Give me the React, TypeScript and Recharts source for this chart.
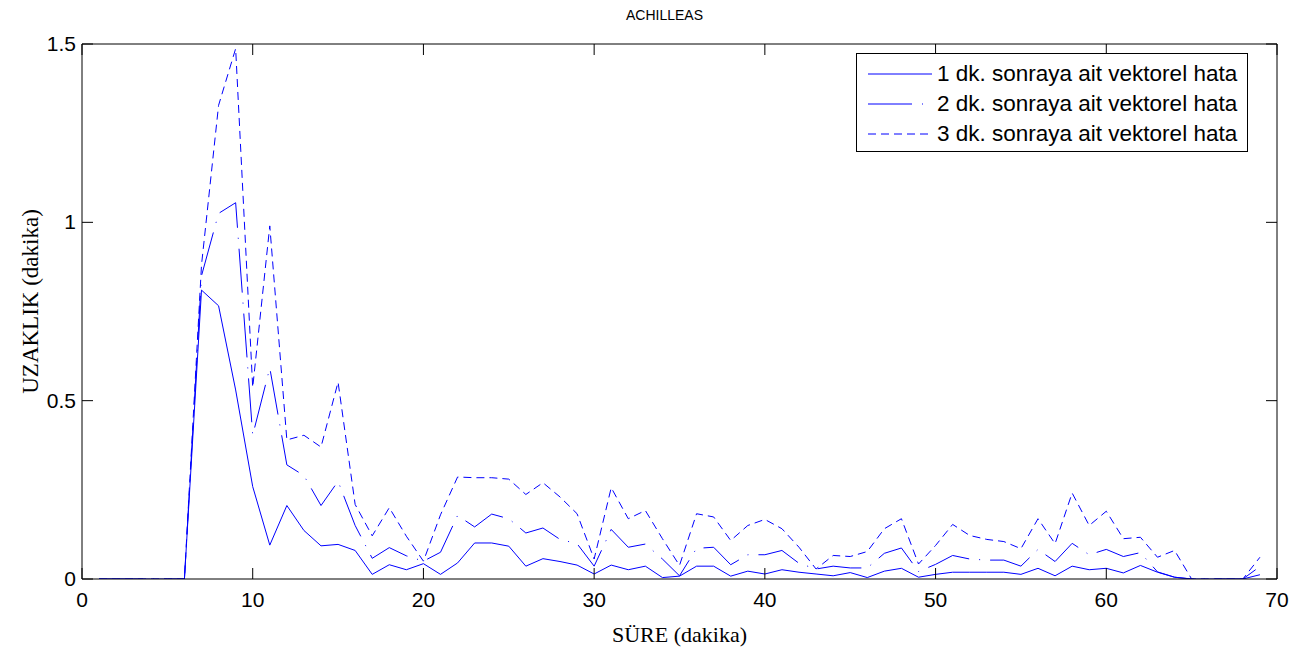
import React from 'react'
import { LineChart, Line, XAxis, YAxis, Legend, Label } from 'recharts'

// minutes on the x axis
const minutes = [
  1, 2, 3, 4, 5, 6, 7, 8, 9, 10, 11, 12, 13, 14, 15, 16, 17, 18, 19, 20,
  21, 22, 23, 24, 25, 26, 27, 28, 29, 30, 31, 32, 33, 34, 35, 36, 37, 38, 39, 40,
  41, 42, 43, 44, 45, 46, 47, 48, 49, 50, 51, 52, 53, 54, 55, 56, 57, 58, 59, 60,
  61, 62, 63, 64, 65, 66, 67, 68, 69,
]

const err1 = [
  0, 0, 0, 0, 0, 0, 0.81, 0.766, 0.53, 0.259, 0.095, 0.206, 0.136, 0.093, 0.097, 0.08, 0.013, 0.04, 0.026, 0.043,
  0.013, 0.045, 0.101, 0.101, 0.092, 0.036, 0.057, 0.049, 0.039, 0.014, 0.039, 0.026, 0.036, 0.004, 0.008, 0.036, 0.036, 0.008, 0.022, 0.014,
  0.026, 0.019, 0.014, 0.009, 0.018, 0.004, 0.022, 0.03, 0.005, 0.013, 0.019, 0.019, 0.019, 0.019, 0.013, 0.03, 0.009, 0.036, 0.026, 0.03,
  0.017, 0.038, 0.019, 0.005, 0, 0, 0, 0, 0.012,
]

const err2 = [
  0, 0, 0, 0, 0, 0, 0.85, 1.025, 1.055, 0.403, 0.592, 0.32, 0.29, 0.206, 0.274, 0.15, 0.058, 0.088, 0.065, 0.05,
  0.075, 0.178, 0.146, 0.182, 0.169, 0.129, 0.143, 0.111, 0.099, 0.036, 0.139, 0.089, 0.098, 0.056, 0.009, 0.086, 0.089, 0.04, 0.068, 0.068,
  0.08, 0.044, 0.028, 0.036, 0.031, 0.031, 0.072, 0.087, 0.021, 0.041, 0.066, 0.056, 0.053, 0.053, 0.036, 0.083, 0.049, 0.1, 0.068, 0.083,
  0.063, 0.074, 0.02, 0.005, 0, 0, 0, 0, 0.035,
]

const err3 = [
  0, 0, 0, 0, 0, 0, 0.88, 1.328, 1.487, 0.537, 0.99, 0.39, 0.403, 0.37, 0.552, 0.209, 0.121, 0.2, 0.12, 0.05,
  0.18, 0.286, 0.284, 0.284, 0.28, 0.237, 0.27, 0.23, 0.183, 0.056, 0.256, 0.169, 0.192, 0.113, 0.038, 0.183, 0.174, 0.108, 0.15, 0.167,
  0.141, 0.089, 0.028, 0.066, 0.063, 0.077, 0.141, 0.169, 0.042, 0.094, 0.153, 0.122, 0.111, 0.105, 0.085, 0.169, 0.099, 0.241, 0.15, 0.19,
  0.113, 0.117, 0.061, 0.08, 0, 0, 0, 0, 0.061,
]

const seriesNames = [
  '1 dk. sonraya ait vektorel hata',
  '2 dk. sonraya ait vektorel hata',
  '3 dk. sonraya ait vektorel hata',
]

const xTicks = [0, 10, 20, 30, 40, 50, 60, 70]
const yTicks = [0, 0.5, 1, 1.5]

const data = minutes.map((m, i) => ({ m, e1: err1[i], e2: err2[i], e3: err3[i] }))

const BLUE = '#0000ff'
const SANS = '"Liberation Sans", Arial, sans-serif'
const SERIF = '"Liberation Serif", "Times New Roman", serif'
const DASHES = [undefined, '44 10 1 10', '8 5']
const TICK = 11
const TICK_FONT = 21

const BottomTick = (props: any) => {
  const { x, y, payload } = props
  return (
    <g>
      <line x1={x} y1={y} x2={x} y2={y - TICK} stroke="#000" />
      <text x={x} y={y + 28} textAnchor="middle" fontSize={TICK_FONT} fontFamily={SANS} fill="#000">
        {payload.value}
      </text>
    </g>
  )
}

const TopTick = (props: any) => {
  const { x, y } = props
  return <line x1={x} y1={y} x2={x} y2={y + TICK} stroke="#000" />
}

const LeftTick = (props: any) => {
  const { x, y, payload } = props
  return (
    <g>
      <line x1={x} y1={y} x2={x + TICK} y2={y} stroke="#000" />
      <text x={x - 6} y={y + 7} textAnchor="end" fontSize={TICK_FONT} fontFamily={SANS} fill="#000">
        {payload.value}
      </text>
    </g>
  )
}

const RightTick = (props: any) => {
  const { x, y } = props
  return <line x1={x} y1={y} x2={x - TICK} y2={y} stroke="#000" />
}

const LegendBox = () => (
  <div
    style={{
      border: '1px solid #000',
      background: '#fff',
      width: 392,
      height: 99,
      paddingTop: 5,
      boxSizing: 'border-box',
    }}
  >
    {seriesNames.map((name, i) => (
      <div key={name} style={{ display: 'flex', alignItems: 'center', height: 30 }}>
        <svg width={80} height={10} style={{ flex: 'none' }}>
          <line x1={11} y1={5} x2={75} y2={5} stroke={BLUE} strokeDasharray={DASHES[i]} />
        </svg>
        <span style={{ fontSize: 22.5, fontFamily: SANS, color: '#000', whiteSpace: 'nowrap' }}>{name}</span>
      </div>
    ))}
  </div>
)

export default function App() {
  return (
    <div style={{ position: 'absolute', left: 0, top: 0 }}>
      <LineChart width={1299} height={658} data={data} margin={{ top: 43, right: 21, bottom: 9, left: 8 }}>
        <XAxis
          dataKey="m"
          type="number"
          domain={[0, 70]}
          ticks={xTicks}
          height={70}
          tickSize={0}
          tickMargin={0}
          tickLine={false}
          tick={<BottomTick />}
          axisLine={{ stroke: '#000' }}
          allowDataOverflow
        >
          <Label
            content={(props: any) => {
              const { x, y, width } = props.viewBox
              return (
                <text x={x + width / 2} y={y + 63} textAnchor="middle" fontSize={22} fontFamily={SERIF} fill="#000">
                  SÜRE (dakika)
                </text>
              )
            }}
          />
        </XAxis>
        <XAxis
          xAxisId="top"
          orientation="top"
          dataKey="m"
          type="number"
          domain={[0, 70]}
          ticks={xTicks}
          height={1}
          tickSize={0}
          tickMargin={0}
          tickLine={false}
          tick={<TopTick />}
          axisLine={{ stroke: '#000' }}
          allowDataOverflow
        >
          <Label
            content={(props: any) => {
              const { x, y, width } = props.viewBox
              return (
                <text x={x + width / 2 - 15} y={y - 23} textAnchor="middle" fontSize={14} fontFamily={SANS} fill="#000">
                  ACHILLEAS
                </text>
              )
            }}
          />
        </XAxis>
        <YAxis
          type="number"
          domain={[0, 1.5]}
          ticks={yTicks}
          width={74}
          tickSize={0}
          tickMargin={0}
          tickLine={false}
          tick={<LeftTick />}
          axisLine={{ stroke: '#000' }}
          allowDataOverflow
        >
          <Label
            content={(props: any) => {
              const { x, y, height } = props.viewBox
              const cx = x + 30
              const cy = y + height / 2 - 10
              return (
                <text
                  x={cx}
                  y={cy}
                  transform={`rotate(-90, ${cx}, ${cy})`}
                  textAnchor="middle"
                  fontSize={23}
                  fontFamily={SERIF}
                  fill="#000"
                >
                  UZAKLIK (dakika)
                </text>
              )
            }}
          />
        </YAxis>
        <YAxis
          yAxisId="right"
          orientation="right"
          type="number"
          domain={[0, 1.5]}
          ticks={yTicks}
          width={1}
          tickSize={0}
          tickMargin={0}
          tickLine={false}
          tick={<RightTick />}
          axisLine={{ stroke: '#000' }}
          allowDataOverflow
        />
        <Legend
          layout="vertical"
          align="center"
          verticalAlign="middle"
          content={<LegendBox />}
          wrapperStyle={{ position: 'absolute', left: 856, top: 53, width: 392, height: 99 }}
        />
        <Line dataKey="e1" name={seriesNames[0]} type="linear" stroke={BLUE} strokeWidth={1} dot={false} isAnimationActive={false} />
        <Line dataKey="e2" name={seriesNames[1]} type="linear" stroke={BLUE} strokeWidth={1} strokeDasharray={DASHES[1]} dot={false} isAnimationActive={false} />
        <Line dataKey="e3" name={seriesNames[2]} type="linear" stroke={BLUE} strokeWidth={1} strokeDasharray={DASHES[2]} dot={false} isAnimationActive={false} />
      </LineChart>
    </div>
  )
}
